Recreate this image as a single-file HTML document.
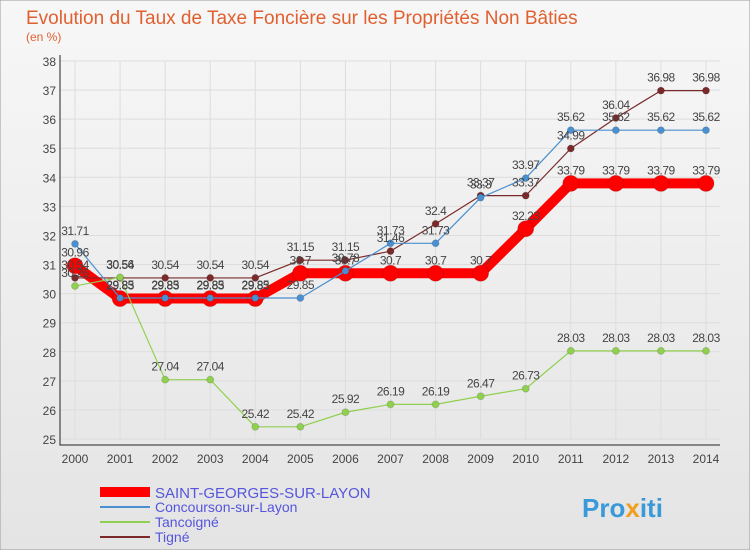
<!DOCTYPE html>
<html><head><meta charset="utf-8"><style>
body{margin:0;width:750px;height:550px;overflow:hidden;font-family:"Liberation Sans",sans-serif}
</style></head><body>
<svg id="c" width="750" height="550" xmlns="http://www.w3.org/2000/svg">
<defs><linearGradient id="bg" x1="0" y1="0" x2="0" y2="1"><stop offset="0" stop-color="#f7f7f7"/><stop offset="1" stop-color="#e4e4e4"/></linearGradient></defs>
<rect x="0" y="0" width="750" height="550" fill="url(#bg)" stroke="#999"/>
<text x="26" y="24" font-size="19" fill="#e06030">Evolution du Taux de Taxe Foncière sur les Propriétés Non Bâties</text>
<text x="26" y="41" font-size="12" fill="#e06030">(en %)</text>
<g id="grid"></g><g id="axes"></g><g id="series"></g><g id="labels"></g>
<g>
<rect x="100" y="487" width="50" height="10" fill="#f00"/>
<text x="155" y="498" font-size="15" fill="#5555dd">SAINT-GEORGES-SUR-LAYON</text>
<line x1="100" y1="507" x2="150" y2="507" stroke="#4a90d0" stroke-width="2"/>
<text x="155" y="512" font-size="14" fill="#5555dd">Concourson-sur-Layon</text>
<line x1="100" y1="522" x2="150" y2="522" stroke="#90d050" stroke-width="2"/>
<text x="155" y="527" font-size="14" fill="#5555dd">Tancoigné</text>
<line x1="100" y1="537" x2="150" y2="537" stroke="#7a2a2a" stroke-width="2"/>
<text x="155" y="542" font-size="14" fill="#5555dd">Tigné</text>
</g>
<text x="582" y="517" font-size="26" font-weight="bold" fill="#3a9ad9">Pro<tspan fill="#f0a020">x</tspan>iti</text>
</svg>
<script>
const years=[2000,2001,2002,2003,2004,2005,2006,2007,2008,2009,2010,2011,2012,2013,2014];
const yTicks=[25,26,27,28,29,30,31,32,33,34,35,36,37,38];
const saint=[30.96,29.83,29.83,29.83,29.83,30.7,30.7,30.7,30.7,30.7,32.23,33.79,33.79,33.79,33.79];
const concourson=[31.71,29.85,29.85,29.85,29.85,29.85,30.78,31.73,31.73,33.3,33.97,35.62,35.62,35.62,35.62];
const tancoigne=[30.26,30.56,27.04,27.04,25.42,25.42,25.92,26.19,26.19,26.47,26.73,28.03,28.03,28.03,28.03];
const tigne=[30.54,30.54,30.54,30.54,30.54,31.15,31.15,31.46,32.4,33.37,33.37,34.99,36.04,36.98,36.98];
const NS="http://www.w3.org/2000/svg";
const x=i=>75+i*(706-75)/(years.length-1);
const y=v=>439-(v-25)*(439-61)/13;
function mk(t,a,p){const e=document.createElementNS(NS,t);for(const k in a)e.setAttribute(k,a[k]);document.getElementById(p).appendChild(e);return e;}
yTicks.forEach(t=>{
 const l=mk('line',{x1:60,x2:720,y1:y(t),y2:y(t),stroke:'#ddd'},'grid');
 
 
 const tx=mk('text',{x:56,y:y(t)+5,'font-size':12,'text-anchor':'end',fill:'#444'},'axes');
 tx.textContent=t;
 
 
});
years.forEach((yr,i)=>{
 const l=mk('line',{x1:x(i),x2:x(i),y1:61,y2:439,stroke:'#ddd'},'grid');
 
 
 const tx=mk('text',{x:x(i),y:463,'font-size':12,'text-anchor':'middle',fill:'#444'},'axes');
 tx.textContent=yr;
 
 
});
const ax=mk('path',{d:'M60 55V445H720',fill:'none',stroke:'#222'},'axes');


function series(vals,color,w,r,name){
 const p=mk('polyline',{points:vals.map((v,i)=>x(i)+','+y(v)).join(' '),fill:'none',stroke:color,'stroke-width':w,'stroke-linejoin':'round'},'series');
 
 
 vals.forEach((v,i)=>{
  const c=mk('circle',{cx:x(i),cy:y(v),r:r,fill:color,stroke:'#0002'},'series');
  
  
  const t=mk('text',{x:x(i),y:y(v)-9,'font-size':12,'text-anchor':'middle',fill:'#444','letter-spacing':'-0.5'},'labels');
  t.textContent=String(v);
  
  
 });
}
series(saint,'#f00',10,8,'saint-georges');
series(tigne,'#7a2a2a',1.2,3.5,'tigne');
series(concourson,'#4a90d0',1.2,3.5,'concourson');
series(tancoigne,'#90d050',1.2,3.5,'tancoigne');
</script>
</body></html>
